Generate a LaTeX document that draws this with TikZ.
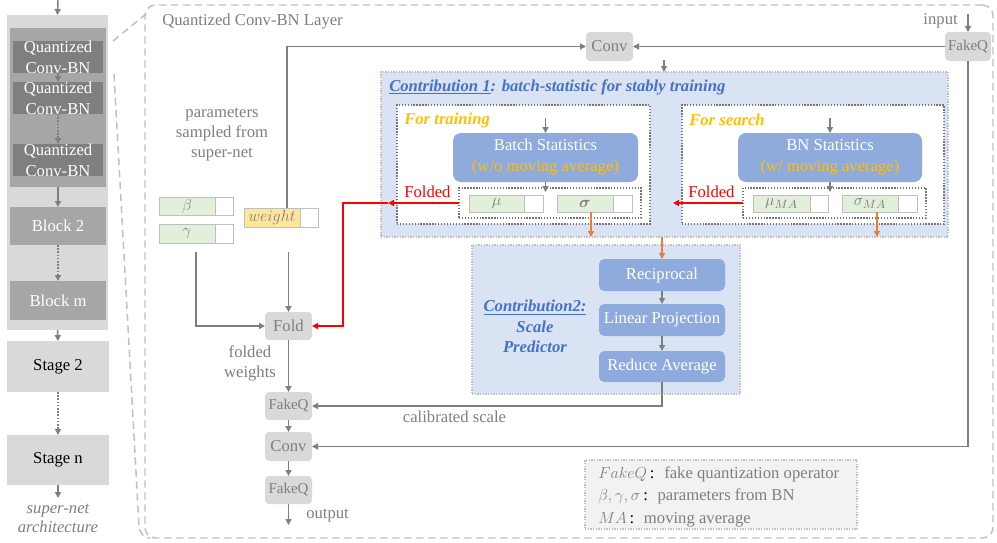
\documentclass[tikz,border=0pt]{standalone}
\usepackage{fontspec}
\setmainfont{Liberation Serif}
\usepackage{bm}
\usetikzlibrary{arrows.meta,calc}

\definecolor{tgray}{HTML}{7F7F7F}
\definecolor{lgray}{HTML}{D9D9D9}
\definecolor{mgray}{HTML}{A6A6A6}
\definecolor{dgray}{HTML}{7F7F7F}
\definecolor{cblue}{HTML}{4472C4}
\definecolor{boxblue}{HTML}{8FAADC}
\definecolor{paleblue}{HTML}{DAE3F3}
\definecolor{gold}{HTML}{FFC000}
\definecolor{orng}{HTML}{ED7D31}
\definecolor{cellgreen}{HTML}{E2EFDA}
\definecolor{cellline}{HTML}{BFBFBF}
\definecolor{wyellow}{HTML}{FFE699}
\definecolor{legfill}{HTML}{F2F2F2}
\definecolor{dashg}{HTML}{BFBFBF}
\definecolor{dotdark}{HTML}{767676}

\newcommand{\szmain}{\fontsize{12.5}{15}\selectfont}
\newcommand{\szfq}{\fontsize{11.25}{13}\selectfont}

\begin{document}
\begin{tikzpicture}[x=0.75pt,y=-0.75pt,
  sz/.style 2 args={minimum width=#1*0.75pt,minimum height=#2*0.75pt,inner sep=0pt,outer sep=0pt},
  txt/.style={font=\szmain},
  gnode/.style={fill=lgray,rounded corners=3pt,text=tgray,font=\szmain},
  fqnode/.style={fill=lgray,rounded corners=3pt,text=tgray,font=\szfq},
  bluenode/.style={fill=boxblue,rounded corners=6pt,text=white,font=\fontsize{12.5}{15.75}\selectfont,align=center},
  predbox/.style={fill=boxblue,rounded corners=4pt,text=white,font=\szmain},
  cellg/.style={fill=cellgreen,draw=cellline,line width=0.6pt,text=tgray,font=\szmain},
  cellw/.style={fill=white,draw=cellline,line width=0.6pt},
  cellyel/.style={fill=wyellow,draw=cellline,line width=0.6pt,text=tgray,font=\szmain},
  garrow/.style={draw=tgray,line width=1.1pt,-{Triangle[length=4.5pt,width=4.5pt]}},
  redarrow/.style={draw=red,line width=1.3pt,-{Triangle[length=4.5pt,width=4.5pt]}},
  orarrow/.style={draw=orng,line width=1.1pt,-{Triangle[length=4.5pt,width=4.5pt]}},
  dotsparse/.style={dash pattern=on 1.2pt off 1.2pt},
  lightdots/.style={draw=dashg,line width=0.9pt,dash pattern=on 0.9pt off 1.1pt},
  darkdots/.style={draw=dotdark,line width=1.1pt,dash pattern=on 1pt off 1.2pt},
  zoomline/.style={draw=dashg,line width=1.1pt,dash pattern=on 5.5pt off 3.5pt},
  graytext/.style={text=tgray,font=\szmain,inner sep=0pt},
  bluetitle/.style={text=cblue,font=\szmain\bfseries\itshape,inner sep=0pt},
  goldtitle/.style={text=gold,font=\szmain\bfseries\itshape,inner sep=0pt},
]
\useasboundingbox (0,0) rectangle (997,543);
\fill[white] (0,0) rectangle (997,543);

% ---------- super-net column ----------
\node[sz={101}{315},fill=lgray] (stage1) at (57.5,172.5) {};
\node[sz={96}{159},fill=mgray] (block1) at (58,107.5) {};
\foreach \n/\y in {q1/57,q2/98,q3/160}{
  \node[sz={90}{32},fill=dgray] (\n) at (58,\y) {};
  \node[font=\fontsize{12.5}{15.75}\selectfont,align=center,inner sep=0pt,text=white] (\n lab) at (58,\y) {Quantized\\Conv-BN};
}
\node[sz={96}{38},fill=mgray,text=white,txt] (block2) at (58,226) {Block 2};
\node[sz={96}{39},fill=mgray,text=white,txt] (blockm) at (58,300.5) {Block m};
\node[sz={102}{51},fill=lgray,txt] (stage2) at (58,366.5) {Stage 2};
\node[sz={102}{50},fill=lgray,txt] (stagen) at (58,460) {Stage n};
\coordinate (netin) at (58,0);
\coordinate (netout) at (58,498);
\draw[garrow] (netin) -- (stage1.north);
\draw[garrow] (q1.south) -- (q2.north);
\draw[garrow,dotsparse] (q2.south) -- (q3.north);
\draw[garrow] (block1.south) -- (block2.north);
\draw[garrow,dotsparse] (block2.south) -- (blockm.north);
\draw[garrow] (stage1.south) -- (stage2.north);
\draw[garrow,dotsparse] (stage2.south) -- (stagen.north);
\draw[garrow] (stagen.south) -- (netout);
\node[text=tgray,font=\fontsize{12.5}{14.25}\selectfont\itshape,align=center,inner sep=0pt] (arch) at (58,518) {super-net\\architecture};

% ---------- layer frame and zoom lines ----------
\node[sz={848}{533},zoomline,rounded corners=8pt] (layer) at (569,271.5) {};
\coordinate (zt) at (113,41);
\coordinate (ztend) at (146,14);
\coordinate (zb) at (114,74);
\coordinate (zbend) at (150,538);
\draw[zoomline] (zt) -- (ztend);
\draw[zoomline] (zb) -- (139,526) .. controls (140,534) and (144,538) .. (zbend);
\node[graytext,anchor=west] (layerlab) at (162,22) {Quantized Conv-BN Layer};

% ---------- top path ----------
\node[fqnode,sz={46}{29}] (fq1) at (968,46.5) {FakeQ};
\node[gnode,sz={47}{29}] (conv1) at (609.5,46.5) {Conv};
\node[graytext,anchor=east] (inlab) at (958,21) {input};
\coordinate (inarr) at (968,14);
\draw[garrow] (inarr) -- (fq1.north);
\draw[garrow] (fq1.west) -- (conv1.east);
\coordinate (wtop) at (287,208);
\draw[garrow] (wtop) |- (conv1.west);

% ---------- contribution 1 ----------
\node[sz={567}{165},fill=paleblue,lightdots] (c1) at (664.5,154.5) {};
\coordinate (c1in) at (664,60);
\draw[garrow] (c1in) -- (c1in |- c1.north);
\node[bluetitle,anchor=west] (c1title) at (389,87) {\underline{Contribution 1}: batch-statistic for stably training};
\node[sz={253}{119},fill=white,darkdots] (trainbox) at (523.5,164.5) {};
\node[sz={262}{119},fill=white,darkdots] (searchbox) at (813,164.5) {};
\node[goldtitle,anchor=west] (trainlab) at (404,120) {For training};
\node[goldtitle,anchor=west] (searchlab) at (689,120) {For search};
\node[bluenode,sz={185}{49}] (batch) at (545.5,157.5) {Batch Statistics\\\textcolor{gold}{(w/o moving average)}};
\node[bluenode,sz={184}{49}] (bnstat) at (830,157.5) {BN Statistics\\\textcolor{gold}{(w/ moving average)}};
\coordinate (bin) at (545.5,118);
\coordinate (bnin) at (830,118);
\draw[garrow] (bin) -- (batch.north);
\draw[garrow] (bnin) -- (bnstat.north);
\node[sz={182}{30},darkdots] (in1) at (550,203) {};
\node[sz={183}{30},darkdots] (in2) at (834.5,203) {};
\draw[garrow] (batch.south) -- ++(0,10);
\draw[garrow] (bnstat.south) -- ++(0,10);
\node[cellg,sz={55}{17}] (mu) at (496.5,203.5) {$\mu$};
\node[cellw,sz={19}{17}] (muw) at (533.5,203.5) {};
\node[cellg,sz={56}{17}] (sig) at (585,203.5) {$\bm{\sigma}$};
\node[cellw,sz={19}{17}] (sigw) at (622.5,203.5) {};
\node[cellg,sz={57}{17}] (muma) at (781.5,203.5) {$\mu_{MA}$};
\node[cellw,sz={18}{17}] (mumaw) at (819,203.5) {};
\node[cellg,sz={56}{17}] (sigma) at (870,203.5) {$\sigma_{MA}$};
\node[cellw,sz={19}{17}] (sigmaw) at (907.5,203.5) {};
\node[txt,text=red,anchor=west,inner sep=0pt] (fold1lab) at (404,192) {Folded};
\node[txt,text=red,anchor=west,inner sep=0pt] (fold2lab) at (688,192) {Folded};
\coordinate (redjoin) at (388,203);
\coordinate (redmid) at (673,203);
\coordinate (redturn) at (343,326);
\draw[redarrow] (in1.west) -- (redjoin);
\draw[redarrow] (in2.west) -- (redmid);

% ---------- contribution 2 ----------
\node[sz={268}{149},fill=paleblue,lightdots] (c2) at (606,319.5) {};
\node[predbox,sz={126}{32}] (recip) at (662,275) {Reciprocal};
\node[predbox,sz={126}{32}] (linp) at (662,320) {Linear Projection};
\node[predbox,sz={126}{31}] (redav) at (662,366.5) {Reduce Average};
\draw[garrow] (recip.south) -- (linp.north);
\draw[garrow] (linp.south) -- (redav.north);
\node[text=cblue,font=\fontsize{12.5}{15.4}\selectfont\bfseries\itshape,align=center,inner sep=0pt] (c2lab) at (535,326.5) {\underline{Contribution2:}\\Scale\\Predictor};
\coordinate (sgo) at (591,212);
\coordinate (smo) at (877,212);
\draw[orarrow] (sgo) -- (sgo |- c1.south);
\draw[orarrow] (smo) -- (smo |- c1.south);
\draw[orarrow] (recip.north |- c1.south) -- (recip.north);

% ---------- sampled parameters ----------
\node[text=tgray,font=\fontsize{12.5}{15}\selectfont,align=center,inner sep=0pt] (paramlab) at (222,135) {parameters\\sampled from\\super-net};
\node[cellg,sz={56}{18}] (beta) at (187,206) {$\beta$};
\node[cellw,sz={18}{18}] (betaw) at (224,206) {};
\node[cellg,sz={56}{19}] (gamma) at (187,233.5) {$\gamma$};
\node[cellw,sz={18}{19}] (gammaw) at (224,233.5) {};
\node[cellyel,sz={56}{19}] (weight) at (272,217.5) {$weight$};
\node[cellw,sz={18}{19}] (weightw) at (309,217.5) {};

% ---------- folded weight path ----------
\node[gnode,sz={47}{28}] (fold) at (288.5,326) {Fold};
\node[fqnode,sz={47}{28}] (fq2) at (288.5,406) {FakeQ};
\node[gnode,sz={47}{29}] (conv2) at (288.5,446.5) {Conv};
\node[fqnode,sz={47}{28}] (fq3) at (288.5,490) {FakeQ};
\coordinate (gtail) at (196,252);
\coordinate (wtail) at (288.5,252);
\coordinate (outend) at (288.5,525);
\draw[garrow] (gtail) |- (fold.west);
\draw[garrow] (wtail) -- (fold.north);
\draw[redarrow] (redjoin) -| (redturn) -- (fold.east);
\draw[garrow] (fold.south) -- (fq2.north);
\draw[garrow] (fq2.south) -- (conv2.north);
\draw[garrow] (conv2.south) -- (fq3.north);
\draw[garrow] (fq3.south) -- (outend);
\draw[garrow] (redav.south) |- (fq2.east);
\draw[garrow] (fq1.south) |- (conv2.east);
\node[text=tgray,font=\fontsize{12.5}{15}\selectfont,align=center,inner sep=0pt] (foldedlab) at (250,363) {folded\\weights};
\node[graytext] (callab) at (454.5,417) {calibrated scale};
\node[graytext,anchor=west] (outlab) at (306,516) {output};

% ---------- legend ----------
\node[sz={272}{69},fill=legfill,lightdots] (legend) at (721,494.5) {};
\node[text=tgray,font=\fontsize{12.5}{16.9}\selectfont,align=left,anchor=west,inner sep=0pt] (legtext) at (598,496.5)
  {$FakeQ$\,\textcolor{black}{:}~ fake quantization operator\\
   $\beta,\gamma,\sigma$\,\textcolor{black}{:}~ parameters from BN\\
   $MA$\,\textcolor{black}{:}~ moving average};
\end{tikzpicture}
\end{document}
